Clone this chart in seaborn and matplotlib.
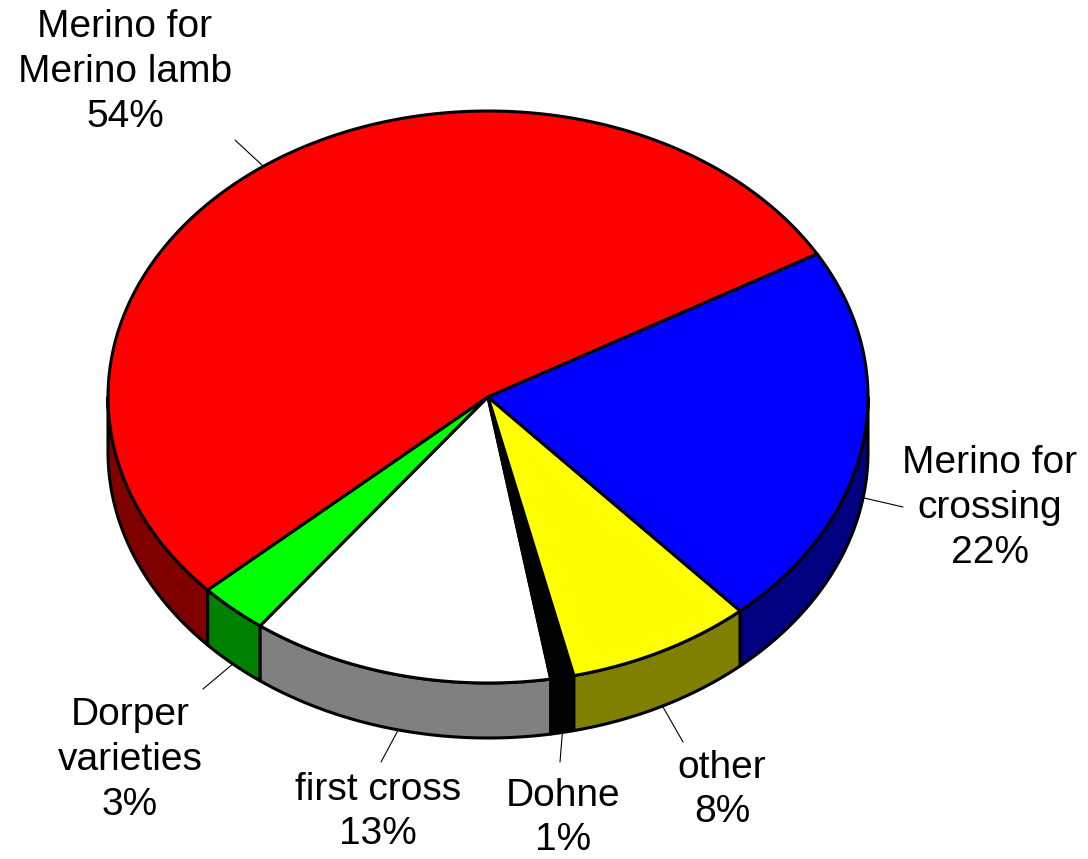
"""
Sheep breed shares drawn as a tilted (3-D look) pie chart.
"""

import numpy as np
import matplotlib
matplotlib.use("Agg")
import matplotlib.pyplot as plt
import seaborn as sns

sns.set_style("white")
plt.rcParams["font.family"] = ["Liberation Sans", "DejaVu Sans"]

# data, in drawing order (counter-clockwise from the start angle)
labels = ["Merino for\nMerino lamb", "Dorper\nvarieties", "first cross",
          "Dohne", "other", "Merino for\ncrossing"]
shares = [54, 3, 13, 1, 8, 22]
top_colors = ["#ff0000", "#00ff00", "#ffffff", "#000000", "#ffff00", "#0000ff"]
side_colors = ["#800000", "#008000", "#808080", "#000000", "#808000", "#000080"]

# layout (pixels)
CX, CY = 488, 397          # centre of the top face
RX, RY = 380, 286          # ellipse half axes
DEPTH = 55                 # wall height
START = 30                 # degrees
label_xy = [(125, 72), (130, 760), (378, 812), (563, 818), (722, 790), (990, 508)]
leader_end = [(235, 140), (203, 689), (381, 762), (560, 762), (683, 742), (903, 507)]


def ellipse_pts(a0, a1, dy=0.0, n=200):
    t = np.radians(np.linspace(a0, a1, n))
    return CX + RX * np.cos(t), CY - RY * np.sin(t) + dy


fig = plt.figure(figsize=(10.88, 8.59), dpi=100)
ax = fig.add_axes([0, 0, 1, 1])
ax.set_xlim(0, 1088)
ax.set_ylim(859, 0)
ax.axis("off")

fracs = np.array(shares, dtype=float) / sum(shares)
edges = START + np.concatenate([[0], np.cumsum(fracs) * 360])

# walls: only the front half (180..360 deg) can be seen
for i in range(len(shares)):
    a0, a1 = edges[i], edges[i + 1]
    for lo, hi in [(180, 360), (540, 720)]:
        s, e = max(a0, lo), min(a1, hi)
        if e <= s:
            continue
        xt, yt = ellipse_pts(s, e)
        xb, yb = ellipse_pts(s, e, DEPTH)
        ax.fill(np.r_[xt, xb[::-1]], np.r_[yt, yb[::-1]],
                facecolor=side_colors[i], edgecolor="black", lw=2.2,
                joinstyle="round", zorder=1)

# top faces
for i in range(len(shares)):
    xs, ys = ellipse_pts(edges[i], edges[i + 1])
    ax.fill(np.r_[CX, xs], np.r_[CY, ys], facecolor=top_colors[i],
            edgecolor="black", lw=2.2, joinstyle="miter", zorder=2)

# labels with leader lines
for i in range(len(shares)):
    mid = (edges[i] + edges[i + 1]) / 2
    t = np.radians(mid)
    px, py = CX + RX * np.cos(t), CY - RY * np.sin(t)
    if np.sin(t) < 0:
        py += DEPTH
    ex, ey = leader_end[i]
    ax.plot([px, ex], [py, ey], color="black", lw=0.8, zorder=3)
    lx, ly = label_xy[i]
    ax.text(lx, ly, f"{labels[i]}\n{shares[i]}%", ha="center", va="center",
            fontsize=28, linespacing=1.32, color="black", zorder=4)

fig.savefig("out.png", dpi=100)
